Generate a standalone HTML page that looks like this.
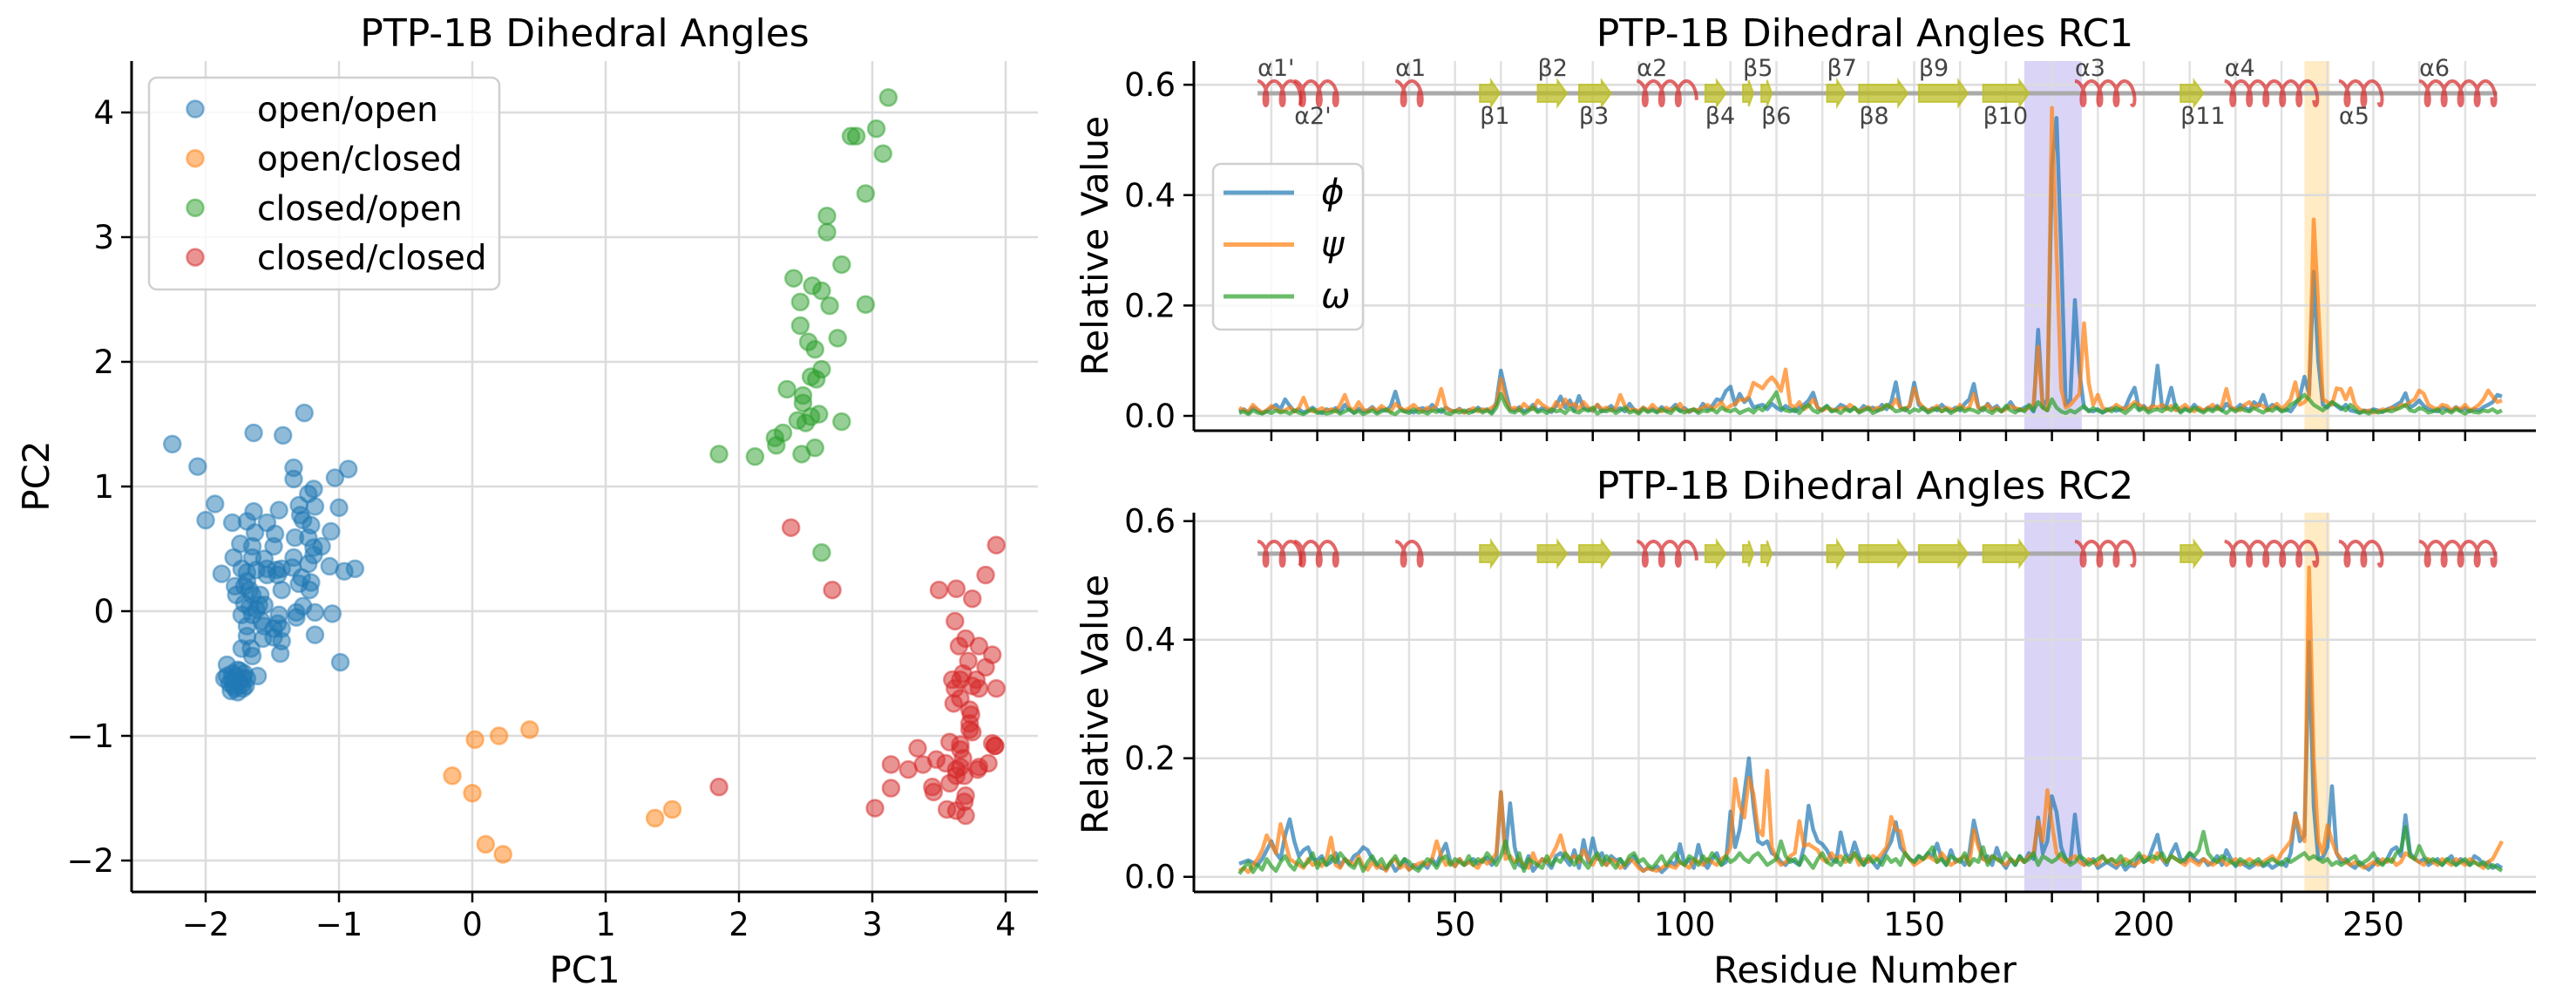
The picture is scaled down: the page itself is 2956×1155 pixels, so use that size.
<!DOCTYPE html>
<html><head><meta charset="utf-8">
<style>
html,body{margin:0;padding:0;background:#fff;}
svg{display:block;font-family:"DejaVu Sans","Liberation Sans",sans-serif;}
</style></head>
<body>
<svg id="fig" xmlns="http://www.w3.org/2000/svg" width="2956" height="1155" viewBox="0 0 2956 1155">
  <rect x="0" y="0" width="2956" height="1155" fill="#fff"/>
  <g id="scatterPanel"></g>
  <g id="rc1Panel"></g>
  <g id="rc2Panel"></g>
  <text x="671" y="53" font-size="44" text-anchor="middle">PTP-1B Dihedral Angles</text>
  <text x="2140" y="53" font-size="44" text-anchor="middle">PTP-1B Dihedral Angles RC1</text>
  <text x="2140" y="572" font-size="44" text-anchor="middle">PTP-1B Dihedral Angles RC2</text>
  <text x="671" y="1127" font-size="42" text-anchor="middle">PC1</text>
  <text x="2140" y="1127" font-size="42" text-anchor="middle">Residue Number</text>
  <text x="0" y="0" font-size="42" text-anchor="middle" transform="translate(56,546) rotate(-90)">PC2</text>
  <text x="0" y="0" font-size="42" text-anchor="middle" transform="translate(1271,282) rotate(-90)">Relative Value</text>
  <text x="0" y="0" font-size="42" text-anchor="middle" transform="translate(1271,808) rotate(-90)">Relative Value</text>
</svg>
<script>
// ---------------- Scatter data ----------------
const openOpenX = [-2.25,-2.06,-1.64,-1.42,-1.26,-1.34,-1.34,-1.03,-0.93,-1.19,-1.23,-1.93,-2.00,-1.64,-1.45,-1.80,-1.69,-1.54,-1.30,-1.18,-1.00,-1.29,-1.27,-1.21,-1.63,-1.48,-1.74,-1.65,-1.49,-1.33,-1.23,-1.06,-1.19,-1.13,-1.19,-1.79,-1.65,-1.56,-1.34,-1.23,-1.07,-0.96,-0.88,-1.88,-1.73,-1.69,-1.62,-1.54,-1.47,-1.43,-1.35,-1.28,-1.21,-1.30,-1.22,-1.78,-1.71,-1.43,-1.77,-1.65,-1.59,-1.67,-1.60,-1.56,-1.73,-1.65,-1.58,-1.45,-1.46,-1.43,-1.32,-1.32,-1.27,-1.18,-1.05,-1.69,-1.56,-1.49,-1.69,-1.57,-1.49,-1.43,-1.18,-1.73,-1.65,-1.66,-1.44,-0.99,-1.84,-1.61,-1.84,-1.80,-1.76,-1.71,-1.69,-1.73,-1.78,-1.82,-1.86,-1.76,-1.80,-1.72,-1.77,-1.70,-1.81,-1.69,-1.67,-1.71,-1.62,-1.54,-1.46,-1.75,-1.72,-1.79,-1.74];
const openOpenY = [1.34,1.16,1.43,1.41,1.59,1.15,1.06,1.07,1.14,0.98,0.94,0.86,0.73,0.80,0.81,0.71,0.72,0.71,0.85,0.84,0.83,0.77,0.73,0.69,0.63,0.62,0.54,0.52,0.52,0.59,0.59,0.64,0.51,0.52,0.45,0.43,0.43,0.42,0.43,0.38,0.36,0.32,0.34,0.30,0.34,0.31,0.33,0.34,0.33,0.34,0.35,0.27,0.23,0.22,0.17,0.20,0.20,0.17,0.13,0.13,0.13,0.03,0.05,0.05,-0.03,-0.03,-0.08,-0.03,-0.10,-0.14,-0.01,-0.05,0.04,-0.01,-0.02,-0.12,-0.12,-0.14,-0.20,-0.22,-0.21,-0.24,-0.19,-0.30,-0.36,-0.30,-0.34,-0.41,-0.43,-0.52,-0.52,-0.50,-0.47,-0.50,-0.54,-0.59,-0.62,-0.58,-0.54,-0.65,-0.55,-0.54,-0.52,-0.60,-0.64,0.24,0.17,0.06,0.01,0.29,0.29,-0.57,-0.62,-0.60,-0.48];
const openClosedX = [-0.15,0.02,0.00,0.20,0.43,0.10,0.23,1.37,1.50];
const openClosedY = [-1.32,-1.03,-1.46,-1.00,-0.95,-1.87,-1.95,-1.66,-1.59];
const closedOpenX = [3.12,2.84,2.88,3.03,3.08,2.95,2.66,2.66,2.77,2.41,2.55,2.62,2.46,2.68,2.95,2.46,2.52,2.57,2.74,2.62,2.54,2.58,2.36,2.48,2.48,2.60,2.54,2.44,2.50,2.77,2.33,2.27,2.28,2.57,2.47,1.85,2.12,2.62];
const closedOpenY = [4.12,3.81,3.81,3.87,3.67,3.35,3.17,3.04,2.78,2.67,2.61,2.57,2.48,2.45,2.46,2.29,2.16,2.10,2.19,1.94,1.88,1.86,1.78,1.73,1.67,1.58,1.56,1.53,1.51,1.52,1.43,1.39,1.33,1.31,1.26,1.26,1.24,0.47];
const closedClosedX = [3.02,3.14,3.14,3.27,3.34,3.38,3.48,3.55,3.45,3.46,3.58,3.58,3.56,3.63,3.70,3.69,3.63,3.66,3.68,3.66,3.66,3.73,3.73,3.74,3.73,3.75,3.61,3.62,3.66,3.80,3.93,3.80,3.87,3.92,3.79,3.63,3.69,3.93,3.85,3.50,3.63,3.75,2.70,3.62,3.70,3.65,3.80,3.72,3.68,3.78,3.85,3.60,3.90,3.75,2.39,1.85,3.90,3.92,3.70,3.66];
const closedClosedY = [-1.58,-1.23,-1.42,-1.27,-1.10,-1.23,-1.19,-1.22,-1.41,-1.45,-1.38,-1.05,-1.59,-1.60,-1.64,-1.53,-1.32,-1.25,-1.18,-1.11,-1.07,-0.95,-0.90,-0.83,-0.79,-0.97,-0.74,-0.62,-0.55,-0.62,-0.62,-1.25,-1.22,-1.08,-1.27,-1.27,-1.32,0.53,0.29,0.17,0.18,0.10,0.17,-0.08,-0.22,-0.28,-0.28,-0.40,-0.50,-0.55,-0.45,-0.55,-0.35,-0.60,0.67,-1.41,-1.06,-1.08,-1.48,-0.70];
const scatterTicks = [-2,-1,0,1,2,3,4];
const scatterTickLabels = ["\u22122","\u22121","0","1","2","3","4"];
const groupNames = ["open/open","open/closed","closed/open","closed/closed"];

// ---------------- Residue line data (residues start at 3) ----------------
const residueStart = 3;
const phiRC1 = [.008,.012,.006,.015,.010,.005,.009,.014,.020,.012, .030,.018,.008,.012,.006,.010,.015,.008,.005,.012, .009,.014,.007,.020,.011,.006,.013,.008,.010,.016, .007,.012,.009,.018,.044,.015,.008,.010,.006,.012, .014,.009,.020,.012,.007,.015,.010,.008,.013,.006, .011,.008,.015,.009,.012,.007,.025,.082,.045,.012, .010,.016,.008,.012,.020,.009,.014,.011,.007,.018, .035,.015,.028,.010,.036,.014,.012,.009,.020,.008, .012,.018,.010,.014,.008,.022,.011,.007,.015,.009, .013,.008,.016,.010,.012,.020,.009,.014,.007,.011, .008,.022,.012,.018,.030,.028,.045,.053,.020,.040, .025,.032,.015,.018,.020,.012,.022,.015,.010,.018, .012,.008,.015,.020,.028,.042,.014,.010,.018,.009, .012,.020,.016,.010,.014,.008,.018,.012,.015,.010, .020,.012,.025,.061,.015,.010,.018,.060,.020,.012, .008,.014,.010,.020,.012,.009,.015,.010,.022,.030, .058,.015,.010,.022,.012,.018,.008,.014,.025,.012, .010,.015,.018,.008,.156,.015,.030,.450,.540,.300, .020,.030,.210,.080,.015,.010,.008,.012,.006,.010, .014,.009,.012,.015,.035,.051,.012,.018,.010,.020, .091,.015,.020,.051,.012,.008,.014,.010,.020,.012, .009,.015,.012,.018,.010,.022,.014,.012,.020,.015, .010,.025,.018,.038,.012,.020,.015,.010,.012,.008, .020,.035,.071,.040,.261,.100,.020,.015,.025,.018, .012,.020,.010,.008,.006,.010,.008,.012,.010,.007, .012,.015,.020,.025,.041,.015,.020,.028,.018,.012, .010,.008,.015,.012,.009,.016,.010,.014,.008,.012, .010,.016,.020,.025,.038,.035];
const psiRC1 = [.015,.010,.008,.020,.012,.006,.010,.018,.012,.008, .010,.015,.008,.014,.033,.012,.008,.010,.014,.009, .012,.008,.020,.038,.015,.010,.025,.012,.008,.014, .010,.018,.012,.008,.022,.015,.010,.014,.020,.012, .008,.015,.010,.020,.049,.015,.010,.008,.012,.006, .010,.014,.008,.012,.010,.015,.020,.067,.030,.012, .015,.010,.022,.014,.012,.028,.020,.015,.010,.025, .014,.030,.018,.022,.012,.025,.015,.010,.020,.012, .015,.010,.014,.038,.018,.010,.012,.008,.015,.010, .020,.012,.008,.015,.010,.014,.022,.010,.008,.012, .010,.015,.020,.012,.018,.025,.012,.018,.022,.030, .028,.035,.060,.055,.050,.062,.070,.060,.045,.084, .020,.015,.025,.012,.018,.030,.015,.010,.014,.012, .010,.015,.012,.020,.014,.008,.012,.016,.010,.015, .012,.020,.015,.030,.015,.012,.018,.050,.025,.015, .010,.012,.018,.008,.015,.012,.010,.020,.012,.015, .040,.015,.012,.020,.010,.015,.008,.012,.018,.014, .012,.010,.015,.020,.125,.015,.010,.558,.300,.050, .015,.020,.030,.040,.168,.060,.020,.038,.015,.010, .012,.020,.015,.012,.018,.025,.020,.015,.012,.018, .015,.020,.012,.018,.010,.014,.020,.012,.008,.015, .010,.014,.020,.012,.018,.049,.015,.012,.010,.020, .025,.015,.020,.018,.010,.015,.022,.012,.020,.030, .061,.020,.025,.035,.356,.200,.030,.025,.020,.050, .048,.030,.050,.020,.012,.008,.010,.006,.008,.012, .010,.015,.012,.020,.018,.025,.030,.046,.040,.020, .015,.012,.020,.018,.010,.015,.012,.020,.010,.014, .020,.030,.046,.035,.025,.028];
const omegaRC1 = [.005,.008,.003,.010,.006,.004,.008,.005,.010,.006, .008,.004,.010,.006,.003,.008,.012,.005,.007,.004, .006,.010,.004,.008,.012,.005,.009,.003,.007,.010, .004,.008,.012,.006,.003,.010,.008,.005,.012,.006, .008,.004,.010,.007,.012,.005,.003,.009,.006,.010, .005,.008,.012,.006,.010,.004,.015,.040,.020,.008, .006,.012,.004,.009,.015,.007,.010,.005,.012,.008, .010,.005,.014,.008,.006,.012,.009,.015,.004,.010, .008,.012,.005,.010,.015,.006,.009,.004,.012,.007, .010,.006,.012,.008,.005,.014,.009,.006,.010,.012, .005,.010,.008,.012,.006,.015,.010,.008,.012,.005, .009,.012,.006,.015,.010,.020,.030,.043,.015,.010, .008,.012,.005,.015,.020,.010,.006,.012,.018,.008, .010,.005,.012,.008,.015,.006,.010,.014,.005,.009, .012,.020,.015,.008,.010,.014,.006,.012,.009,.015, .006,.010,.014,.008,.012,.005,.010,.015,.008,.012, .010,.006,.015,.009,.005,.012,.008,.018,.010,.006, .012,.008,.020,.010,.025,.015,.010,.030,.015,.008, .005,.010,.006,.012,.018,.008,.014,.010,.006,.012, .008,.015,.010,.005,.012,.020,.010,.014,.006,.010, .012,.008,.015,.010,.020,.006,.012,.008,.015,.010, .006,.012,.008,.015,.010,.005,.012,.008,.014,.010, .008,.014,.010,.006,.012,.009,.015,.008,.010,.020, .025,.030,.038,.030,.020,.015,.010,.018,.025,.020, .015,.010,.020,.012,.005,.008,.004,.010,.006,.008, .010,.008,.012,.015,.020,.010,.008,.014,.012,.006, .008,.012,.005,.010,.006,.012,.008,.004,.010,.007, .006,.010,.008,.012,.006,.010];
const phiRC2 = [.022,.025,.028,.024,.020,.030,.045,.060,.040,.030, .070,.097,.060,.035,.045,.050,.030,.028,.035,.020, .025,.040,.018,.030,.022,.035,.040,.050,.045,.030, .020,.015,.012,.025,.010,.018,.030,.012,.020,.015, .022,.015,.030,.020,.040,.056,.025,.018,.030,.020, .025,.030,.022,.028,.032,.020,.030,.143,.040,.124, .050,.020,.015,.035,.010,.020,.030,.025,.015,.035, .040,.030,.020,.045,.015,.062,.025,.065,.030,.040, .020,.035,.028,.030,.015,.025,.035,.020,.010,.015, .012,.018,.008,.015,.025,.020,.055,.020,.030,.015, .054,.025,.015,.030,.040,.020,.025,.110,.050,.080, .140,.200,.120,.060,.055,.060,.040,.035,.025,.020, .030,.025,.020,.050,.120,.080,.060,.055,.045,.030, .025,.075,.040,.030,.058,.035,.020,.030,.025,.015, .030,.045,.060,.092,.050,.040,.030,.025,.035,.030, .040,.035,.056,.030,.020,.045,.025,.030,.020,.040, .095,.060,.030,.035,.020,.049,.025,.015,.030,.020, .035,.025,.040,.030,.100,.040,.060,.136,.109,.050, .030,.025,.105,.040,.020,.025,.030,.015,.020,.025, .020,.015,.025,.012,.020,.018,.035,.025,.030,.050, .071,.030,.020,.040,.055,.030,.025,.040,.030,.025, .030,.020,.025,.035,.020,.045,.030,.018,.025,.020, .015,.020,.025,.018,.022,.015,.020,.025,.018,.040, .107,.060,.070,.396,.120,.030,.033,.050,.153,.040, .025,.030,.020,.015,.025,.018,.012,.020,.030,.022, .030,.045,.050,.035,.104,.040,.030,.025,.030,.020, .025,.030,.020,.028,.035,.020,.030,.025,.020,.035, .030,.020,.025,.015,.020,.015];
const psiRC2 = [.010,.015,.008,.020,.030,.045,.070,.055,.040,.089, .060,.030,.025,.020,.015,.030,.020,.025,.018,.030, .066,.020,.015,.030,.025,.020,.035,.018,.012,.025, .015,.020,.010,.025,.030,.015,.020,.012,.018,.022, .025,.020,.030,.060,.035,.020,.025,.018,.030,.020, .025,.020,.015,.030,.022,.028,.040,.143,.030,.035, .025,.030,.020,.015,.040,.020,.030,.025,.035,.050, .070,.040,.030,.035,.025,.045,.030,.020,.035,.025, .020,.030,.025,.015,.020,.030,.025,.015,.010,.015, .012,.010,.015,.020,.018,.015,.025,.020,.015,.030, .025,.020,.030,.025,.020,.030,.035,.050,.165,.120, .100,.167,.140,.080,.070,.179,.050,.030,.020,.025, .035,.040,.094,.052,.055,.050,.045,.030,.025,.040, .030,.035,.025,.030,.040,.020,.030,.025,.035,.030, .040,.050,.101,.080,.077,.040,.030,.020,.025,.030, .035,.030,.025,.040,.030,.020,.025,.030,.035,.020, .079,.050,.030,.025,.035,.030,.025,.020,.030,.025, .030,.025,.035,.040,.094,.060,.146,.090,.040,.030, .025,.030,.035,.025,.020,.030,.025,.020,.035,.025, .030,.020,.025,.030,.025,.020,.025,.035,.030,.025, .040,.030,.025,.035,.030,.025,.020,.030,.025,.020, .030,.025,.020,.025,.030,.020,.025,.030,.020,.025, .030,.025,.020,.025,.030,.035,.025,.040,.050,.060, .104,.080,.060,.522,.200,.060,.040,.087,.060,.040, .030,.025,.020,.025,.020,.015,.020,.025,.020,.030, .025,.030,.020,.025,.040,.035,.030,.025,.020,.030, .025,.020,.030,.025,.020,.030,.025,.020,.030,.025, .020,.015,.025,.030,.045,.060];
const omegaRC2 = [.005,.015,.025,.008,.020,.012,.030,.018,.010,.025, .035,.020,.012,.030,.018,.025,.040,.015,.030,.020, .035,.025,.040,.030,.020,.015,.030,.010,.025,.035, .020,.030,.015,.025,.035,.020,.030,.025,.015,.010, .020,.030,.025,.015,.030,.035,.020,.030,.025,.020, .035,.020,.030,.025,.040,.030,.020,.035,.060,.030, .015,.040,.010,.030,.025,.020,.015,.035,.020,.030, .025,.040,.030,.020,.035,.025,.015,.030,.040,.020, .035,.025,.015,.030,.020,.035,.040,.025,.030,.020, .015,.025,.035,.020,.030,.040,.025,.020,.035,.030, .020,.035,.025,.040,.030,.020,.035,.025,.030,.040, .030,.025,.035,.040,.030,.020,.025,.030,.060,.035, .025,.030,.020,.035,.025,.015,.030,.040,.025,.020, .030,.020,.035,.025,.040,.030,.020,.035,.025,.030, .020,.035,.025,.030,.020,.040,.030,.025,.035,.030, .040,.050,.025,.030,.020,.035,.030,.025,.040,.020, .030,.025,.050,.020,.035,.030,.025,.040,.030,.020, .035,.025,.030,.040,.020,.035,.030,.025,.030,.040, .030,.020,.025,.035,.030,.020,.025,.030,.035,.025, .030,.025,.035,.020,.025,.030,.040,.025,.030,.035, .030,.040,.025,.035,.030,.025,.030,.040,.035,.045, .076,.040,.030,.025,.035,.030,.025,.020,.030,.025, .020,.025,.030,.020,.025,.030,.025,.020,.030,.025, .030,.035,.040,.030,.035,.030,.025,.030,.020,.025, .020,.025,.030,.035,.020,.025,.030,.040,.025,.020, .030,.025,.040,.045,.084,.035,.030,.052,.035,.025, .030,.025,.020,.030,.025,.020,.025,.030,.020,.025, .020,.025,.015,.020,.015,.010];
const residueTicks = [10,20,30,40,50,60,70,80,90,100,110,120,130,140,150,160,170,180,190,200,210,220,230,240,250,260,270];
const residueTickLabels = {50:"50",100:"100",150:"150",200:"200",250:"250"};
const rcTopTicks = [0.0,0.2,0.4,0.6];
const rcTopTickLabels = ["0.0","0.2","0.4","0.6"];
const seriesNames = ["phi","psi","omega"];
const seriesSymbols = ["\u03d5","\u03c8","\u03c9"];
// secondary structure
const ssType  = ["helix","helix","helix","strand","strand","strand","helix","strand","strand","strand","strand","strand","strand","strand","helix","strand","helix","helix","helix"];
const ssStart = [7,15,37,55.4,68,77,89.6,104.5,112.7,116.7,131,138,151,165,185,208,217.6,242.5,260];
const ssEnd   = [16,25,43.5,59.8,74.4,84,101.7,109,115,119,135,148.6,161.7,175,198,213,238,252,277];
const ssLabel = ["\u03b11'","\u03b12'","\u03b11","\u03b21","\u03b22","\u03b23","\u03b12","\u03b24","\u03b25","\u03b26","\u03b27","\u03b28","\u03b29","\u03b210","\u03b13","\u03b211","\u03b14","\u03b15","\u03b16"];
const ssLabelSide = ["above","below","above","below","above","below","above","below","above","below","above","below","above","below","above","below","above","below","above"];
const backboneStart = 7, backboneEnd = 277;
const regionWPD = [174, 186.5];
const regionAlpha = [235, 240.5];

// ---------------- Drawing ----------------
const NS = "http://www.w3.org/2000/svg";
function mk(tag, attrs, parent){ const e=document.createElementNS(NS,tag); for(const k in attrs) e.setAttribute(k, attrs[k]); parent.appendChild(e); return e; }
const COLORS = ["#1f77b4","#ff7f0e","#2ca02c","#d62728"];
const GRID = "#dcdcdc";

const sx = v => 542 + 153*v;
const sy = v => 701 - 143*v;
const SP = {x0:151, x1:1191, y0:70, y1:1023};
const scat = document.getElementById("scatterPanel");
scatterTicks.forEach((t,i)=>{
  const gx = mk("line",{x1:sx(t),x2:sx(t),y1:SP.y0,y2:SP.y1,stroke:GRID,"stroke-width":2.5},scat);
  
  
  const gy = mk("line",{x1:SP.x0,x2:SP.x1,y1:sy(t),y2:sy(t),stroke:GRID,"stroke-width":2.5},scat);
  
  
  const tx = mk("line",{x1:sx(t),x2:sx(t),y1:SP.y1,y2:SP.y1+12,stroke:"#000","stroke-width":2.5},scat);
  
  
  const lx = mk("text",{x:sx(t),y:SP.y1+50,"font-size":37,"text-anchor":"middle"},scat);
  lx.textContent = scatterTickLabels[i];
  
  
  const ty = mk("line",{x1:SP.x0-12,x2:SP.x0,y1:sy(t),y2:sy(t),stroke:"#000","stroke-width":2.5},scat);
  
  
  const ly = mk("text",{x:SP.x0-20,y:sy(t)+13,"font-size":37,"text-anchor":"end"},scat);
  ly.textContent = scatterTickLabels[i];
  
  
});
const groupsX = [openOpenX, openClosedX, closedOpenX, closedClosedX];
const groupsY = [openOpenY, openClosedY, closedOpenY, closedClosedY];
groupsX.forEach((xs,g)=>{
  const gg = mk("g",{},scat);
  
  
  xs.forEach((x,i)=>{
    const c = mk("circle",{cx:sx(x),cy:sy(groupsY[g][i]),r:9.5,fill:COLORS[g],"fill-opacity":0.5,stroke:COLORS[g],"stroke-opacity":0.5,"stroke-width":2.5},gg);
    
    
  });
});
const sl = mk("line",{x1:SP.x0,x2:SP.x0,y1:SP.y0,y2:SP.y1,stroke:"#000","stroke-width":3},scat);


const sb = mk("line",{x1:SP.x0,x2:SP.x1,y1:SP.y1,y2:SP.y1,stroke:"#000","stroke-width":3},scat);


const leg = mk("g",{},scat);


const lbox = mk("rect",{x:171,y:89,width:402,height:243,rx:9,fill:"#fff","fill-opacity":0.8,stroke:"#d0d0d0","stroke-width":2.5},leg);


groupNames.forEach((n,g)=>{
  const cy = 125 + g*56.7;
  const m = mk("circle",{cx:224,cy:cy,r:9.5,fill:COLORS[g],"fill-opacity":0.5,stroke:COLORS[g],"stroke-opacity":0.5,"stroke-width":2.5},leg);
  
  
  const t = mk("text",{x:295,y:cy+14,"font-size":39},leg);
  t.textContent = n;
  
  
});

const rx = r => 1406.2 + 5.269*r;
const RX0 = 1370, RX1 = 2910;
function drawPanel(panelId, y0, y1, yScale, backboneY, series, showLabels, showLegend, prefix){
  const P = document.getElementById(panelId);
  const s1 = mk("rect",{x:rx(regionWPD[0]),y:y0,width:rx(regionWPD[1])-rx(regionWPD[0]),height:y1-y0,fill:"#dad4f7"},P);
  
  
  const s2 = mk("rect",{x:rx(regionAlpha[0]),y:y0,width:rx(regionAlpha[1])-rx(regionAlpha[0]),height:y1-y0,fill:"#ffebc4"},P);
  
  
  residueTicks.forEach(t=>{
    const g = mk("line",{x1:rx(t),x2:rx(t),y1:y0,y2:y1,stroke:GRID,"stroke-width":2.5,"stroke-opacity":0.85},P);
    
    
    const tk = mk("line",{x1:rx(t),x2:rx(t),y1:y1,y2:y1+12,stroke:"#000","stroke-width":2.5},P);
    
    
    if(prefix==="rc2" && residueTickLabels[t]){
      const l = mk("text",{x:rx(t),y:y1+50,"font-size":37,"text-anchor":"middle"},P);
      l.textContent = residueTickLabels[t];
      
      
    }
  });
  rcTopTicks.forEach((t,i)=>{
    const g = mk("line",{x1:RX0,x2:RX1,y1:yScale(t),y2:yScale(t),stroke:GRID,"stroke-width":2.5},P);
    
    
    const tk = mk("line",{x1:RX0-12,x2:RX0,y1:yScale(t),y2:yScale(t),stroke:"#000","stroke-width":2.5},P);
    
    
    const l = mk("text",{x:RX0-21,y:yScale(t)+13,"font-size":37,"text-anchor":"end"},P);
    l.textContent = rcTopTickLabels[i];
    
    
  });
  const bb = mk("line",{x1:rx(backboneStart),x2:rx(backboneEnd),y1:backboneY,y2:backboneY,stroke:"#aaaaaa","stroke-width":5},P);
  
  
  ssType.forEach((tp,i)=>{
    const xa = rx(ssStart[i]), xb = rx(ssEnd[i]);
    if(tp==="helix"){
      const p=19, b=6, c=14; const tmax = (xb-xa)/p*2*Math.PI;
      let d="";
      for(let t=0;t<=tmax+0.001;t+=0.12){
        const x = xa + p*t/(2*Math.PI) + b*Math.sin(t);
        const y = backboneY - c*Math.cos(t);
        d += (d?"L":"M")+x.toFixed(1)+" "+y.toFixed(1);
      }
      const h = mk("path",{d:d,fill:"none",stroke:"#d62728","stroke-opacity":0.7,"stroke-width":4},P);
      
      
    } else {
      const hl = Math.min(11,(xb-xa)*0.45);
      const y=backboneY;
      const pts = [[xa,y-10],[xb-hl,y-10],[xb-hl,y-15],[xb,y],[xb-hl,y+15],[xb-hl,y+10],[xa,y+10]].map(q=>q.join(",")).join(" ");
      const s = mk("polygon",{points:pts,fill:"#bcbd22","fill-opacity":0.75,stroke:"#bcbd22","stroke-opacity":0.75,"stroke-width":2},P);
      
      
    }
    if(showLabels){
      const ly = ssLabelSide[i]==="above" ? backboneY-20 : backboneY+35;
      const l = mk("text",{x:xa,y:ly,"font-size":27,fill:"#444"},P);
      l.textContent = ssLabel[i];
      
      
    }
  });
  series.forEach((vals,k)=>{
    let d="";
    vals.forEach((v,i)=>{ d += (i?"L":"M")+rx(residueStart+i).toFixed(1)+" "+yScale(v).toFixed(1); });
    const ln = mk("path",{d:d,fill:"none",stroke:COLORS[k],"stroke-opacity":0.7,"stroke-width":4.5,"stroke-linejoin":"round"},P);
    
    
  });
  const sL = mk("line",{x1:RX0,x2:RX0,y1:y0,y2:y1,stroke:"#000","stroke-width":3},P);
  
  
  const sB = mk("line",{x1:RX0,x2:RX1,y1:y1,y2:y1,stroke:"#000","stroke-width":3},P);
  
  
  if(showLegend){
    const lg = mk("g",{},P);
    
    
    const bx = mk("rect",{x:1392,y:188,width:172,height:190,rx:9,fill:"#fff","fill-opacity":0.8,stroke:"#d0d0d0","stroke-width":2.5},lg);
    
    
    seriesSymbols.forEach((s,k)=>{
      const y = 221 + k*59.5;
      const l = mk("line",{x1:1404,x2:1485,y1:y,y2:y,stroke:COLORS[k],"stroke-opacity":0.7,"stroke-width":5},lg);
      
      
      const t = mk("text",{x:1516,y:y+13,"font-size":40,"font-style":"italic"},lg);
      t.textContent = s;
      
      
    });
  }
}
const ty = v => 477 - 633*v;
const by = v => 1005.7 - 680*v;
drawPanel("rc1Panel", 70, 494, ty, 107, [phiRC1, psiRC1, omegaRC1], true, true, "rc1");
drawPanel("rc2Panel", 588, 1023, by, 635, [phiRC2, psiRC2, omegaRC2], false, false, "rc2");
</script>
</body></html>
